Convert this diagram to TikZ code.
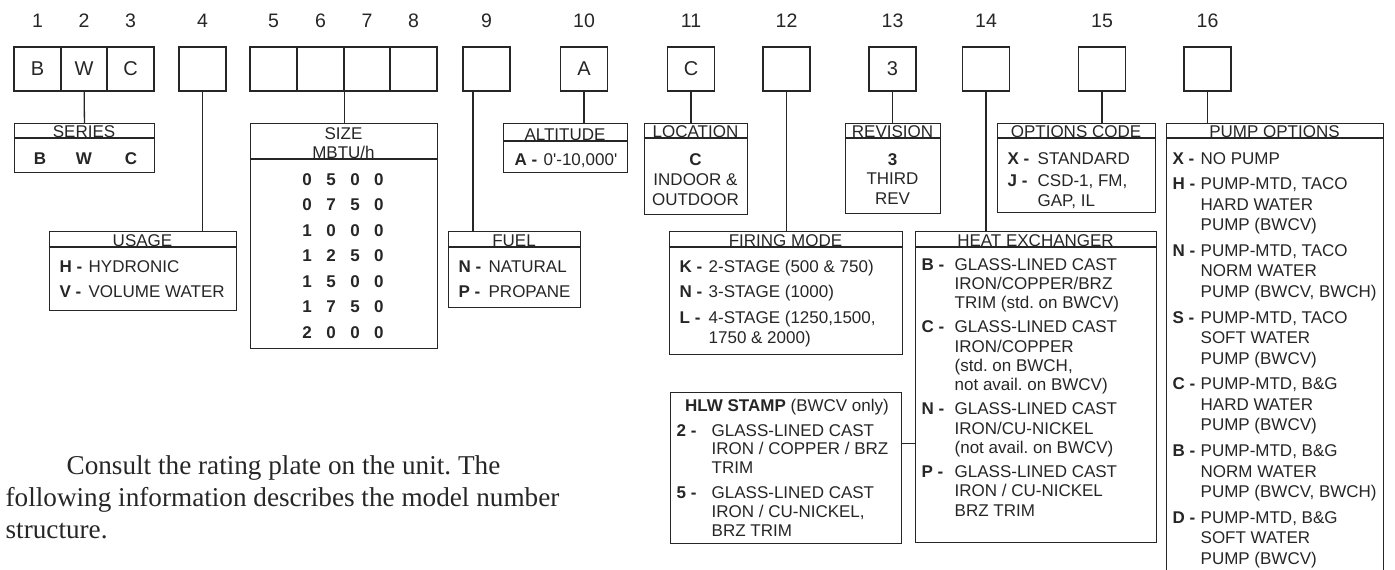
\documentclass[tikz,border=0pt]{standalone}
\usepackage{fontspec}
\setmainfont{Liberation Sans}
\newfontfamily\serifface{Liberation Serif}
\usepackage{array}
\usetikzlibrary{positioning}
\frenchspacing

\newcommand{\optlist}[2]{\begin{tabular}[t]{@{}>{\bfseries}p{#1}@{}l@{}}#2\end{tabular}}
\newcommand{\ctrlines}[1]{\begin{tabular}[t]{@{}c@{}}#1\end{tabular}}

\begin{document}
\begin{tikzpicture}[%
x=0.5pt, y=-0.5pt, line width=0.65pt, color=black!85,
digit/.style={draw, minimum width=23.5pt, minimum height=22pt, inner sep=0pt, font=\fontsize{10}{12}\selectfont},
num/.style={inner sep=0pt, font=\fontsize{9.75}{12}\selectfont},
keybox/.style={draw, anchor=north west, inner sep=0pt},
head/.style={anchor=base, inner sep=0pt, font=\fontsize{8.5}{10}\selectfont},
opts/.style={anchor=base west, inner sep=0pt, font=\fontsize{8.5}{10}\selectfont},
val/.style={anchor=base, inner sep=0pt, font=\fontsize{8.5}{10}\selectfont\bfseries},
para/.style={anchor=base west, inner sep=0pt, font=\serifface\fontsize{13.6}{16}\selectfont}
]
\useasboundingbox (0,0) rectangle (1395,569);
\clip (0,0) rectangle (1395,569);

% model number positions
\node[digit] (d1) at (37.5,69) {B};
\node[digit] (d2) at (84,69) {W};
\node[digit] (d3) at (130.5,69) {C};
\node[digit] (d4) at (202.5,69) {};
\node[digit] (d5) at (273.5,69) {};
\node[digit] (d6) at (320.5,69) {};
\node[digit] (d7) at (367,69) {};
\node[digit] (d8) at (413.5,69) {};
\node[digit] (d9) at (486.5,69) {};
\node[digit] (d10) at (584,69) {A};
\node[digit] (d11) at (691,69) {C};
\node[digit] (d12) at (786.5,69) {};
\node[digit] (d13) at (892.5,69) {3};
\node[digit] (d14) at (986,69) {};
\node[digit] (d15) at (1102,69) {};
\node[digit] (d16) at (1207.5,69) {};

\node[num, above=9pt of d1] (n1) {1};
\node[num, above=9pt of d2] (n2) {2};
\node[num, above=9pt of d3] (n3) {3};
\node[num, above=9pt of d4] (n4) {4};
\node[num, above=9pt of d5] (n5) {5};
\node[num, above=9pt of d6] (n6) {6};
\node[num, above=9pt of d7] (n7) {7};
\node[num, above=9pt of d8] (n8) {8};
\node[num, above=9pt of d9] (n9) {9};
\node[num, above=9pt of d10] (n10) {10};
\node[num, above=9pt of d11] (n11) {11};
\node[num, above=9pt of d12] (n12) {12};
\node[num, above=9pt of d13] (n13) {13};
\node[num, above=9pt of d14] (n14) {14};
\node[num, above=9pt of d15] (n15) {15};
\node[num, above=9pt of d16] (n16) {16};

% series
\node[keybox, minimum width=70pt, minimum height=24.5pt] (series) at (14,123) {};
\draw ([yshift=-7.5pt]series.north west) -- ([yshift=-7.5pt]series.north east);
\node[head] (seriesh) at (84,137) {SERIES};
\node[val] (sb) at (40,164) {B};
\node[val] (sw) at (84,164) {W};
\node[val] (sc) at (131,164) {C};
\draw (d2) -- (series);

% usage
\node[keybox, minimum width=93.5pt, minimum height=39.5pt] (usage) at (49,231) {};
\draw ([yshift=-8pt]usage.north west) -- ([yshift=-8pt]usage.north east);
\node[head] (usageh) at (142.5,246) {USAGE};
\node[opts] (usaget) at (59,272) {\optlist{14.5pt}{H -&HYDRONIC\\[2.5pt] V -&VOLUME WATER}};
\draw (d4.south) -- (d4.south |- usage.north);

% size
\node[keybox, minimum width=93.5pt, minimum height=112.5pt] (size) at (250,123) {};
\draw ([yshift=-18pt]size.north west) -- ([yshift=-18pt]size.north east);
\node[head] (sizeh) at (343.5,139) {\fontsize{8.5}{9.75}\selectfont\ctrlines{SIZE\\MBTU/h}};
\node[val] (sizet) at (343,185) {\fontsize{8.5}{12.75}\selectfont
  \begin{tabular}[t]{@{}c@{\hspace{7.27pt}}c@{\hspace{7.27pt}}c@{\hspace{7.27pt}}c@{}}
  0&5&0&0\\ 0&7&5&0\\ 1&0&0&0\\ 1&2&5&0\\ 1&5&0&0\\ 1&7&5&0\\ 2&0&0&0
  \end{tabular}};
\draw (d6.south east) -- (d6.south east |- size.north);

% fuel
\node[keybox, minimum width=66pt, minimum height=38pt] (fuel) at (448,231) {};
\draw ([yshift=-8pt]fuel.north west) -- ([yshift=-8pt]fuel.north east);
\node[head] (fuelh) at (514,246) {FUEL};
\node[opts] (fuelt) at (458,272) {\optlist{15pt}{N -&NATURAL\\[2.5pt] P -&PROPANE}};
\draw ([xshift=-6.75pt]d9.south) -- ([xshift=-6.75pt]d9.south |- fuel.north);

% altitude
\node[keybox, minimum width=62pt, minimum height=24.5pt] (altitude) at (503,123) {};
\draw ([yshift=-9pt]altitude.north west) -- ([yshift=-9pt]altitude.north east);
\node[head] (altitudeh) at (565,140) {ALTITUDE};
\node[opts] (altitudet) at (514,165) {\optlist{14.5pt}{A -&0\textquotesingle-10,000\textquotesingle}};
\draw (d10.south) -- (d10.south |- altitude.north);

% location
\node[keybox, minimum width=51.5pt, minimum height=45.5pt] (location) at (644,123) {};
\draw ([yshift=-7.5pt]location.north west) -- ([yshift=-7.5pt]location.north east);
\node[head] (locationh) at (695.5,137) {LOCATION};
\node[head] (locationt) at (695.5,165) {\ctrlines{\textbf{C}\\INDOOR \&\\OUTDOOR}};
\draw (d11.south) -- (d11.south |- location.north);

% firing mode
\node[keybox, minimum width=116.5pt, minimum height=61.5pt] (firing) at (669,231) {};
\draw ([yshift=-8pt]firing.north west) -- ([yshift=-8pt]firing.north east);
\node[head] (firingh) at (785.5,246) {FIRING MODE};
\node[opts] (firingt) at (679,272) {\optlist{14.5pt}{K -&2-STAGE (500 \& 750)\\[2.75pt]
  N -&3-STAGE (1000)\\[2.75pt]
  L -&4-STAGE (1250,1500,\\ &1750 \& 2000)}};
\draw (d12.south) -- (d12.south |- firing.north);

% revision
\node[keybox, minimum width=47.5pt, minimum height=45pt] (revision) at (845,123) {};
\draw ([yshift=-7.5pt]revision.north west) -- ([yshift=-7.5pt]revision.north east);
\node[head] (revisionh) at (892.5,137) {REVISION};
\node[head] (revisiont) at (892.5,165) {\fontsize{8.5}{9.75}\selectfont\ctrlines{\textbf{3}\\THIRD\\REV}};
\draw (d13.south) -- (d13.south |- revision.north);

% heat exchanger
\node[keybox, minimum width=120.5pt, minimum height=155.5pt] (heatex) at (915,231) {};
\draw ([yshift=-8pt]heatex.north west) -- ([yshift=-8pt]heatex.north east);
\node[head] (heatexh) at (1035.5,246) {HEAT EXCHANGER};
\node[opts] (heatext) at (921,270) {\fontsize{8.5}{9.65}\selectfont\optlist{16.5pt}{%
  B -&GLASS-LINED CAST\\ &IRON/COPPER/BRZ\\ &TRIM (std. on BWCV)\\[2.4pt]
  C -&GLASS-LINED CAST\\ &IRON/COPPER\\ &(std. on BWCH,\\ &not avail. on BWCV)\\[2.4pt]
  N -&GLASS-LINED CAST\\ &IRON/CU-NICKEL\\ &(not avail. on BWCV)\\[2.4pt]
  P -&GLASS-LINED CAST\\ &IRON / CU-NICKEL\\ &BRZ TRIM}};
\draw (d14.south) -- (d14.south |- heatex.north);

% HLW stamp
\node[keybox, minimum width=115.5pt, minimum height=75.5pt] (hlw) at (670,392) {};
\node[head] (hlwh) at (787,411) {\textbf{HLW STAMP} (BWCV only)};
\node[opts] (hlwt) at (676,436) {\fontsize{8.5}{9.4}\selectfont\optlist{17.5pt}{%
  2 -&GLASS-LINED CAST\\ &IRON / COPPER / BRZ\\ &TRIM\\[3pt]
  5 -&GLASS-LINED CAST\\ &IRON / CU-NICKEL,\\ &BRZ TRIM}};
\draw ([yshift=12.25pt]hlw.east) -- ([yshift=12.25pt]hlw.east -| heatex.west);

% options code
\node[keybox, minimum width=79pt, minimum height=44.5pt] (options) at (997,123) {};
\draw ([yshift=-7.5pt]options.north west) -- ([yshift=-7.5pt]options.north east);
\node[head] (optionsh) at (1076,137) {OPTIONS CODE};
\node[opts] (optionst) at (1007,164) {\optlist{15pt}{X -&STANDARD\\[1pt] J -&CSD-1, FM,\\ &GAP, IL}};
\draw (d15.south) -- (d15.south |- options.north);

% pump options
\node[keybox, minimum width=108.5pt, minimum height=232pt] (pump) at (1166,123) {};
\draw ([yshift=-7.5pt]pump.north west) -- ([yshift=-7.5pt]pump.north east);
\node[head] (pumph) at (1274.5,137) {PUMP OPTIONS};
\node[opts] (pumpt) at (1172,164) {\fontsize{8.5}{10.25}\selectfont\optlist{14pt}{%
  X -&NO PUMP\\[2.6pt]
  H -&PUMP-MTD, TACO\\ &HARD WATER\\ &PUMP (BWCV)\\[2.6pt]
  N -&PUMP-MTD, TACO\\ &NORM WATER\\ &PUMP (BWCV, BWCH)\\[2.6pt]
  S -&PUMP-MTD, TACO\\ &SOFT WATER\\ &PUMP (BWCV)\\[2.6pt]
  C -&PUMP-MTD, B\&G\\ &HARD WATER\\ &PUMP (BWCV)\\[2.6pt]
  B -&PUMP-MTD, B\&G\\ &NORM WATER\\ &PUMP (BWCV, BWCH)\\[2.6pt]
  D -&PUMP-MTD, B\&G\\ &SOFT WATER\\ &PUMP (BWCV)}};
\draw (d16.south) -- (d16.south |- pump.north);

% note
\node[para] (note) at (5,474) {\begin{tabular}[t]{@{}l@{}}
  \hspace*{30.5pt}Consult the rating plate on the unit. The\\
  following information describes the model number\\
  structure.
  \end{tabular}};
\end{tikzpicture}
\end{document}
